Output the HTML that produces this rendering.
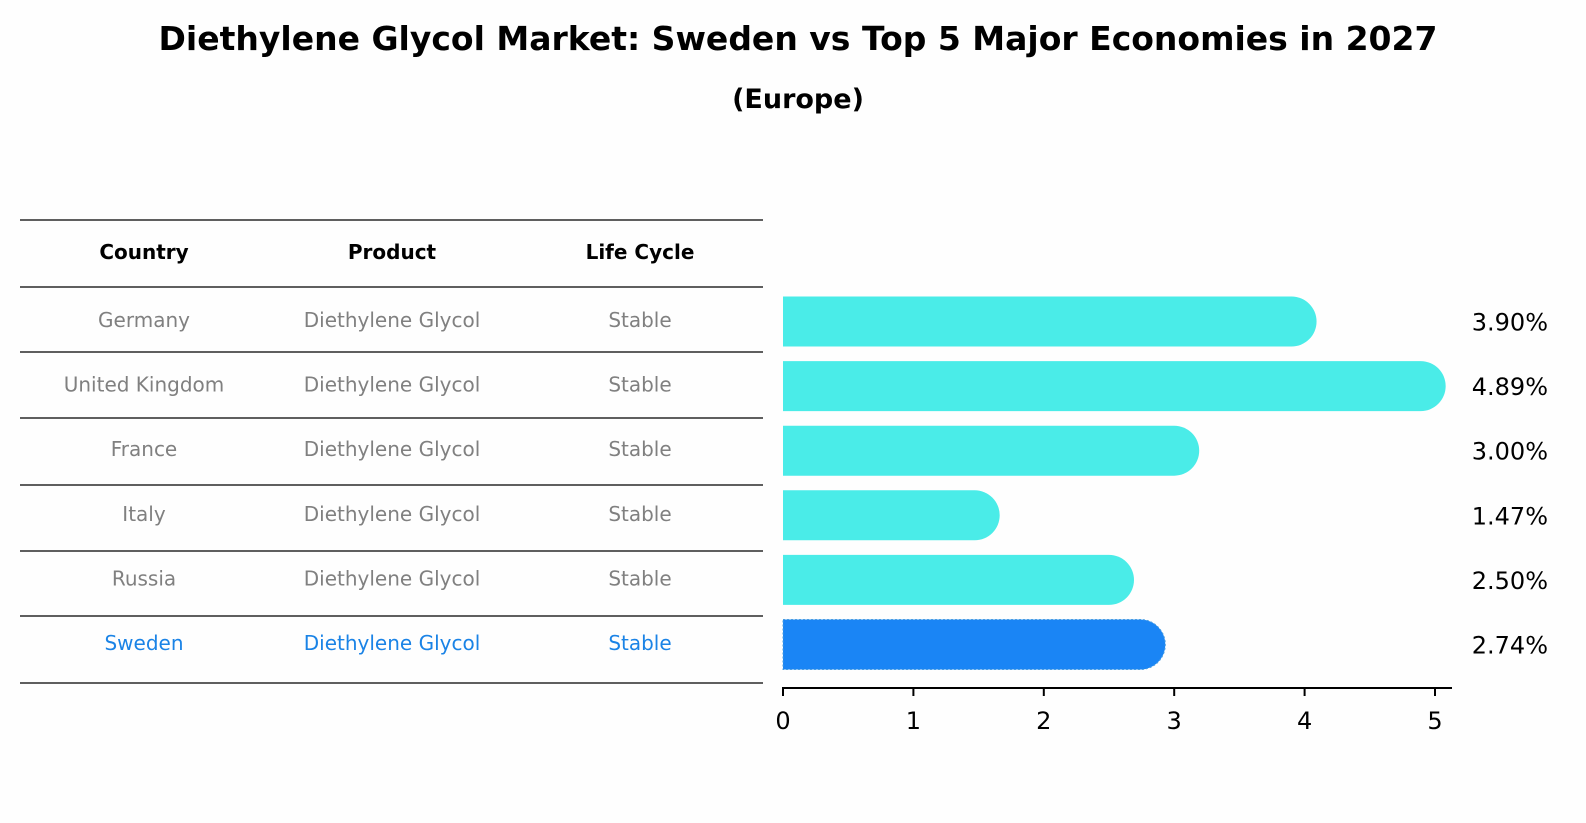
<!DOCTYPE html>
<html><head><meta charset="utf-8"><style>
body{margin:0;background:#fefefe;}
svg{display:block;font-family:"Liberation Sans","DejaVu Sans",sans-serif;}
</style></head><body>
<svg id="c" width="1586" height="823">
<text x="798" y="50" text-anchor="middle" font-size="33" font-weight="bold" font-family="DejaVu Sans, sans-serif">Diethylene Glycol Market: Sweden vs Top 5 Major Economies in 2027</text>
<text x="798" y="108" text-anchor="middle" font-size="27" font-weight="bold" font-family="DejaVu Sans, sans-serif">(Europe)</text>
<g id="tbl"></g>
<g id="bars"></g>
</svg>
<script>
const countries=["Germany","United Kingdom","France","Italy","Russia","Sweden"];
const products=["Diethylene Glycol","Diethylene Glycol","Diethylene Glycol","Diethylene Glycol","Diethylene Glycol","Diethylene Glycol"];
const lifecycle=["Stable","Stable","Stable","Stable","Stable","Stable"];
const values=[3.90,4.89,3.00,1.47,2.50,2.74];
const ticks=[0,1,2,3,4,5];
const NS="http://www.w3.org/2000/svg";
function mk(t,a,p){const e=document.createElementNS(NS,t);for(const k in a)e.setAttribute(k,a[k]);p.appendChild(e);return e;}
const tbl=document.getElementById('tbl'),bars=document.getElementById('bars');
const x=v=>783+v*130.4;
const rowY=i=>321+i*64.6;
const colX=[144,392,640];
const lines=[220,287,352,418,485,551,616,683];
lines.forEach((y,i)=>{const l=mk('line',{x1:20,x2:763,y1:y,y2:y,stroke:'#000','stroke-width':1.2},tbl);

});
["Country","Product","Life Cycle"].forEach((h,j)=>{const t=mk('text',{x:colX[j],y:259,'text-anchor':'middle','font-size':20,'font-weight':'bold','font-family':'DejaVu Sans, sans-serif'},tbl);t.textContent=h;

});
countries.forEach((c,i)=>{const last=i===countries.length-1;const col=last?'#1a83e6':'#808080';
[c,products[i],lifecycle[i]].forEach((s,j)=>{const t=mk('text',{x:colX[j],y:rowY(i)+6,'text-anchor':'middle','font-size':20,fill:col,'font-family':'DejaVu Sans, sans-serif'},tbl);t.textContent=s;

});
const cy=rowY(i)+0.5,h=50,r=25,x0=x(0),x1=x(values[i]);
const fill=last?'#1a85f5':'#4aece8';
const p=mk('path',{d:`M${x0},${cy-h/2} H${x1} A${r},${r} 0 0 1 ${x1},${cy+h/2} H${x0} Z`,fill:fill},bars);
if(last){p.setAttribute('stroke','#4a9ee0');p.setAttribute('stroke-dasharray','2,2');}


const vt=mk('text',{x:1548,y:cy+9,'text-anchor':'end','font-size':24,'font-family':'DejaVu Sans, sans-serif'},bars);vt.textContent=values[i].toFixed(2)+'%';

});
const ax=mk('line',{x1:782,x2:1452,y1:688,y2:688,stroke:'#000','stroke-width':2},bars);


ticks.forEach(t=>{const tk=mk('line',{x1:x(t),x2:x(t),y1:688,y2:696,stroke:'#000','stroke-width':2},bars);


const tl=mk('text',{x:x(t),y:729,'text-anchor':'middle','font-size':24,'font-family':'DejaVu Sans, sans-serif'},bars);tl.textContent=t;

});
</script>
</body></html>
